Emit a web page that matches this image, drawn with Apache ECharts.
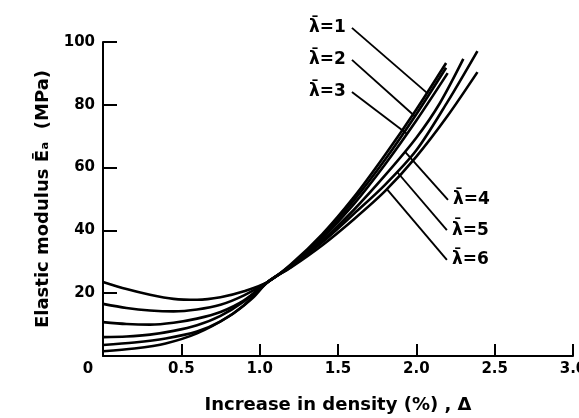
<!DOCTYPE html>
<html><head><meta charset="utf-8">
<script src="https://cdn.jsdelivr.net/npm/echarts@6/dist/echarts.min.js"></script>
<style>html,body{margin:0;padding:0;background:#fff}#c{width:579px;height:418px}</style>
</head><body><div id="c"></div>
<script>
// ---- data ----
const lam1X = [0,0.15,0.3,0.45,0.6,0.75,0.9,1.05,1.2,1.4,1.6,1.8,2.0,2.19];
const lam1Y = [23.6,21.3,19.5,18.2,17.9,18.7,20.6,23.5,29.2,38.8,50.5,64,78.5,93.3];
const lam2X = [0,0.15,0.3,0.45,0.6,0.75,0.9,1.05,1.2,1.4,1.6,1.8,2.0,2.19];
const lam2Y = [16.6,15.3,14.5,14.2,14.8,16.3,19.3,23.5,29.0,38.2,49.5,62.5,77,91.8];
const lam3X = [0,0.15,0.3,0.45,0.6,0.75,0.9,1.05,1.2,1.4,1.6,1.8,2.0,2.2];
const lam3Y = [10.8,10.2,10.0,10.6,11.9,14.0,17.7,23.5,28.8,37.6,48.3,61,75,90.1];
const lam4X = [0,0.15,0.3,0.45,0.6,0.75,0.9,1.05,1.2,1.4,1.6,1.8,2.0,2.15,2.3];
const lam4Y = [6.0,6.2,6.8,8.0,9.8,12.8,17.4,23.5,28.6,36.8,46.5,57.5,69.5,80.5,94.6];
const lam5X = [0,0.2,0.4,0.6,0.75,0.9,1.05,1.2,1.4,1.6,1.8,2.0,2.2,2.39];
const lam5Y = [3.5,4.3,5.6,7.8,11.0,16.2,23.5,28.4,36.2,45.2,54.5,65.5,81,97.1];
const lam6X = [0,0.2,0.4,0.6,0.8,0.95,1.05,1.2,1.4,1.6,1.8,2.0,2.2,2.39];
const lam6Y = [1.5,2.4,4.0,7.2,12.5,18.2,23.5,28.2,35.3,43.5,52.5,63.5,76.5,90.4];

const labelNames = ['λ\u0304=1','λ\u0304=2','λ\u0304=3','λ\u0304=4','λ\u0304=5','λ\u0304=6'];
const leaderCurveX = [2.068,1.991,1.940,1.927,1.876,1.812];
const leaderEndX = [1.589,1.589,1.589,2.202,2.195,2.195];
const leaderEndY = [104.5,94.3,84.1,49.7,40.1,30.6];
const labelSide = ['left','left','left','right','right','right'];

const xTicks = [0,0.5,1.0,1.5,2.0,2.5,3.0];
const yTicks = [0,20,40,60,80,100];

const curvesX = [lam1X,lam2X,lam3X,lam4X,lam5X,lam6X];
const curvesY = [lam1Y,lam2Y,lam3Y,lam4Y,lam5Y,lam6Y];

const FONT = 'DejaVu Sans';
const chart = echarts.init(document.getElementById('c'), null, {renderer:'canvas'});

const series = curvesX.map((xs,i)=>({
  type:'line', name:labelNames[i], smooth:0.3, showSymbol:false, symbol:'none',
  clip:false,
  lineStyle:{color:'#000', width:2.6},
  data: xs.map((x,j)=>[x, curvesY[i][j]])
}));

chart.setOption({
  animation:false,
  backgroundColor:'#fff',
  grid:{left:103, right:6, top:42, bottom:62, containLabel:false, outerBoundsMode:'none'},
  xAxis:{
    type:'value', min:xTicks[0], max:xTicks[xTicks.length-1], interval:0.5,
    name:'Increase in density (%) , Δ', nameLocation:'middle', nameGap:40,
    nameTextStyle:{fontFamily:FONT, fontWeight:'bold', fontSize:18, color:'#000'},
    axisLine:{lineStyle:{color:'#000', width:2}},
    axisTick:{inside:true, length:12, lineStyle:{color:'#000', width:2}},
    axisLabel:{margin:6, fontFamily:FONT, fontWeight:'bold', fontSize:15, color:'#000',
      hideOverlap:false,
      formatter:(v)=> v===0 ? '{z|0}' : v.toFixed(1),
      rich:{z:{fontFamily:FONT, fontWeight:'bold', fontSize:15, color:'#000', padding:[0,30,0,0]}}},
    splitLine:{show:false}
  },
  yAxis:{
    type:'value', min:yTicks[0], max:yTicks[yTicks.length-1], interval:20,
    name:'Elastic modulus E\u0304\u0302\u2090  (MPa)', nameLocation:'middle', nameGap:48, nameRotate:90,
    nameTextStyle:{fontFamily:FONT, fontWeight:'bold', fontSize:18, color:'#000'},
    axisLine:{lineStyle:{color:'#000', width:2}},
    axisTick:{inside:true, length:14, lineStyle:{color:'#000', width:2}},
    axisLabel:{margin:8, fontFamily:FONT, fontWeight:'bold', fontSize:15, color:'#000',
      formatter:(v)=> v===0 ? '' : String(v)},
    splitLine:{show:false}
  },
  series
});

function interp(xs, ys, x){
  for(let j=0;j<xs.length-1;j++){
    if(x>=xs[j] && x<=xs[j+1]){
      const t=(x-xs[j])/(xs[j+1]-xs[j]);
      return ys[j]+t*(ys[j+1]-ys[j]);
    }
  }
  return ys[ys.length-1];
}

const graphics = [];
labelNames.forEach((name,i)=>{
  const cy = interp(curvesX[i], curvesY[i], leaderCurveX[i]);
  const p1 = chart.convertToPixel({gridIndex:0}, [leaderCurveX[i], cy]);
  const p2 = chart.convertToPixel({gridIndex:0}, [leaderEndX[i], leaderEndY[i]]);
  graphics.push({type:'line', shape:{x1:p1[0],y1:p1[1],x2:p2[0],y2:p2[1]},
    style:{stroke:'#000', lineWidth:1.9}, silent:true});
  const left = labelSide[i]==='left';
  graphics.push({type:'text', x: left ? p2[0]-6 : p2[0]+5, y: p2[1],
    style:{text:name, fill:'#000', font:'bold 17px "'+FONT+'"',
      textAlign: left ? 'right' : 'left', textVerticalAlign:'middle'}, silent:true});
});
chart.setOption({graphic:graphics});
</script></body></html>
